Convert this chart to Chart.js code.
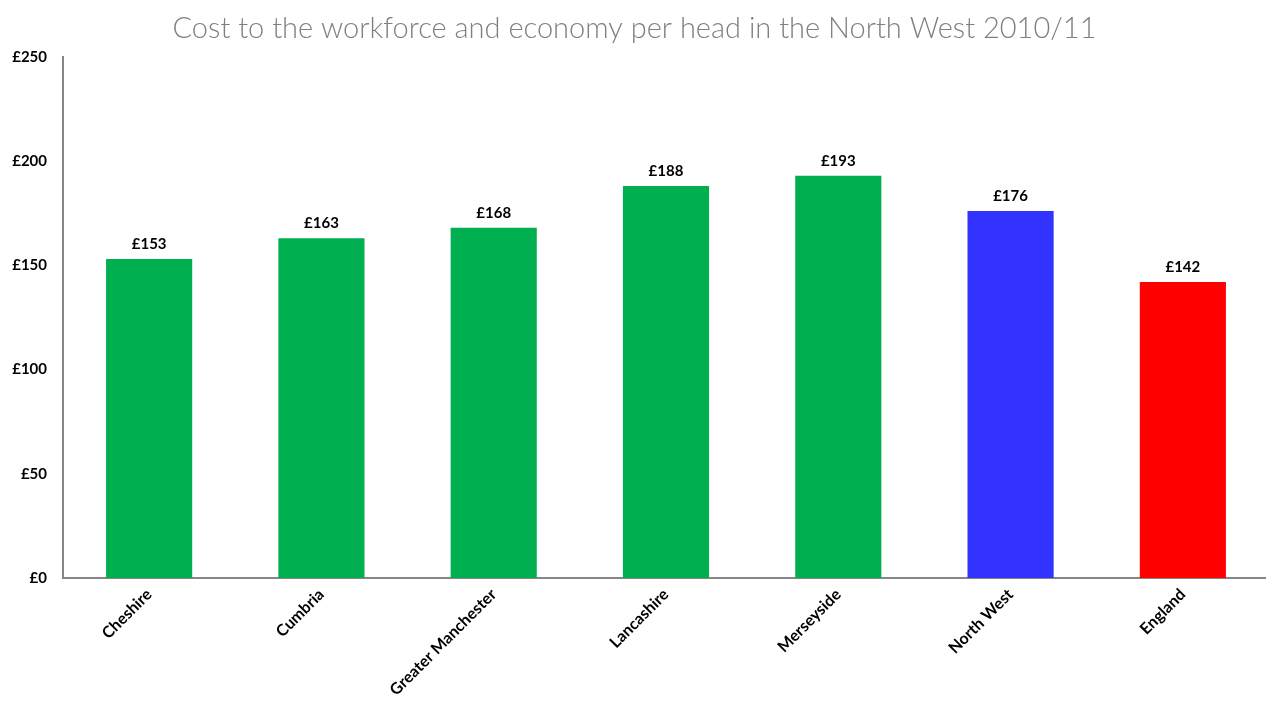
<!DOCTYPE html>
<html>
<head>
<meta charset="utf-8">
<script src="https://cdn.jsdelivr.net/npm/chart.js@4.4.1/dist/chart.umd.min.js"></script>
<style>
  html, body { margin: 0; padding: 0; background: #fff; overflow: hidden; }
  #wrap { position: relative; width: 1270px; height: 702px; }
</style>
</head>
<body>
<div id="wrap"><canvas id="c"></canvas></div>
<script>
const categories = ['Cheshire', 'Cumbria', 'Greater Manchester', 'Lancashire', 'Merseyside', 'North West', 'England'];
const costPerHead = [153, 163, 168, 188, 193, 176, 142];
const barColours = ['#00b050', '#00b050', '#00b050', '#00b050', '#00b050', '#3333ff', '#ff0000'];
const yTicks = [0, 50, 100, 150, 200, 250];

// Value labels above each bar
const valueLabels = {
  id: 'valueLabels',
  afterDatasetsDraw(chart) {
    const ctx = chart.ctx;
    const meta = chart.getDatasetMeta(0);
    ctx.save();
    ctx.font = 'bold 15px Lato, "Open Sans", sans-serif';
    ctx.fillStyle = '#000';
    ctx.textAlign = 'center';
    ctx.textBaseline = 'alphabetic';
    meta.data.forEach((bar, i) => {
      ctx.fillText('£' + costPerHead[i], bar.x, bar.y - 10);
    });
    ctx.restore();
  }
};

new Chart(document.getElementById('c'), {
  type: 'bar',
  data: {
    labels: categories,
    datasets: [{
      data: costPerHead,
      backgroundColor: barColours,
      borderWidth: 0,
      barPercentage: 0.5,
      categoryPercentage: 1.0
    }]
  },
  options: {
    responsive: true,
    maintainAspectRatio: false,
    animation: false,
    layout: { padding: { left: 0, right: 1, top: 0, bottom: 0 } },
    plugins: {
      legend: { display: false },
      tooltip: { enabled: false },
      title: {
        display: true,
        text: 'Cost to the workforce and economy per head in the North West 2010/11',
        color: '#7f7f7f',
        font: { family: 'Lato, "DejaVu Sans", sans-serif', size: 29, weight: 300 },
        padding: { top: 11, bottom: 11 }
      }
    },
    scales: {
      x: {
        grid: { display: false, drawTicks: false },
        border: { display: true, color: '#868686', width: 2 },
        ticks: {
          color: '#000',
          font: { family: 'Lato, "Open Sans", sans-serif', size: 16, weight: 'bold' },
          maxRotation: 45,
          minRotation: 45,
          padding: 7,
          autoSkip: false
        },
        afterFit(scale) { scale.height = 124; }
      },
      y: {
        min: 0,
        max: 250,
        afterBuildTicks(scale) { scale.ticks = yTicks.map(v => ({ value: v })); },
        grid: { display: false, drawTicks: false },
        border: { display: true, color: '#868686', width: 2 },
        ticks: {
          color: '#000',
          font: { family: 'Lato, "Open Sans", sans-serif', size: 15, weight: 'bold' },
          padding: 16,
          callback: v => '£' + v
        },
        afterFit(scale) { scale.width = 63; }
      }
    }
  },
  plugins: [valueLabels]
});
</script>
</body>
</html>
